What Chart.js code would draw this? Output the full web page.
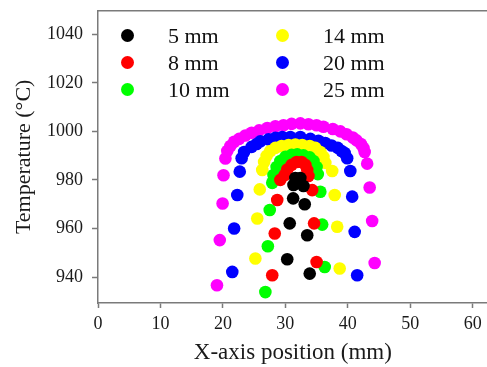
<!DOCTYPE html>
<html lang="en">
<head>
    <meta charset="UTF-8">
    <title>Temperature vs X-axis position</title>
    <style>
        body {
            margin: 0;
            padding: 0;
            background: #fff;
        }
        .wrap {
            position: relative;
            width: 487px;
            height: 367px;
            overflow: hidden;
        }
        #chart {
            position: absolute;
            left: 0;
            top: 0;
        }
        .legend-item {
            position: absolute;
            height: 27px;
            display: flex;
            align-items: center;
            font-family: "Liberation Serif", "DejaVu Serif", serif;
            font-size: 22px;
            line-height: 27px;
            color: #111;
            white-space: nowrap;
        }
        .legend-dot {
            width: 13px;
            height: 13px;
            border-radius: 50%;
            flex: none;
        }
    </style>
</head>
<body>
    <div class="wrap">
        <!-- a bit wider than the window so the plot runs off the right edge like the original -->
        <canvas id="chart" width="494" height="367"></canvas>
        <div id="legend"></div>
    </div>
    <script src="https://cdn.jsdelivr.net/npm/chart.js"></script>
    <script>
        const seriesLabels = ['5 mm', '8 mm', '10 mm', '14 mm', '20 mm', '25 mm'];
        const seriesColors = ['#000000', '#ff0000', '#00ff00', '#ffff00', '#0000ff', '#ff00ff'];
        const xTicks = [0, 10, 20, 30, 40, 50, 60];
        const yTicks = [940, 960, 980, 1000, 1020, 1040];

        // x position (mm) and temperature (°C), per series
        const x5 = [30.3, 30.7, 31.25, 31.3, 31.6, 32.4, 32.1, 32.9, 33.1, 33.5, 33.9];
        const t5 = [947.3, 962.1, 972.4, 977.9, 980.8, 980.8, 978.7, 977.5, 970.0, 957.2, 941.4];

        const x8 = [27.9, 28.3, 28.7, 29.2, 29.9, 30.3, 31.0, 31.8, 32.6, 33.2, 33.5, 33.7, 34.3, 34.6, 35.0];
        const t8 = [940.7, 957.9, 971.7, 980.0, 982.0, 984.3, 986.2, 987.4, 987.4, 986.2, 984.1, 981.6, 975.8, 962.1, 946.2];

        const x10 = [26.8, 27.2, 27.5, 27.9, 28.1, 28.6, 29.2, 30.0, 31.0, 31.9, 32.9, 33.9, 34.5, 35.0, 35.2, 35.6, 35.9, 36.3];
        const t10 = [933.8, 952.7, 967.6, 978.8, 982.0, 985.3, 987.8, 989.5, 990.3, 990.5, 990.1, 989.3, 987.8, 985.3, 982.4, 975.1, 961.6, 944.1];

        const x14 = [25.2, 25.5, 25.9, 26.3, 26.6, 27.0, 27.6, 28.4, 29.4, 30.5, 31.6, 32.7, 33.9, 34.8, 35.6, 36.1, 36.4, 37.5, 37.9, 38.3, 38.7];
        const t14 = [947.6, 964.1, 976.1, 984.1, 987.4, 989.9, 991.9, 993.2, 994.0, 994.4, 994.6, 994.4, 994.0, 993.2, 991.5, 989.5, 987.0, 983.7, 973.8, 960.7, 943.5];

        const x20 = [21.5, 21.8, 22.3, 22.7, 23.0, 23.4, 24.6, 25.4, 26.0, 27.3, 28.4, 29.5, 30.8, 32.4, 34.0, 35.3, 36.4, 37.4, 38.4, 39.0, 39.5, 39.9, 40.4, 40.7, 41.1, 41.5];
        const t20 = [942.1, 960.0, 973.8, 983.4, 988.9, 991.5, 993.6, 994.8, 995.9, 996.7, 997.3, 997.7, 997.7, 997.7, 996.9, 996.1, 995.2, 994.2, 993.2, 991.9, 991.1, 988.9, 983.7, 973.1, 958.6, 940.7];

        const x25 = [19.05, 19.5, 19.95, 20.1, 20.4, 20.7, 21.2, 21.8, 22.6, 23.6, 24.6, 25.8, 27.1, 28.4, 29.7, 31.0, 32.4, 33.7, 35.0, 36.1, 37.6, 38.8, 39.8, 40.8, 41.4, 42.1, 42.5, 42.7, 43.1, 43.5, 43.9, 44.3];
        const t25 = [936.6, 955.2, 970.3, 981.9, 988.8, 991.9, 994.0, 995.7, 996.9, 998.3, 999.4, 1000.4, 1001.4, 1002.1, 1002.5, 1003.1, 1003.3, 1002.9, 1002.5, 1001.9, 1001.0, 1000.0, 998.8, 997.5, 996.3, 994.8, 993.2, 991.5, 986.7, 976.9, 963.1, 945.8];

        const allX = [x5, x8, x10, x14, x20, x25];
        const allT = [t5, t8, t10, t14, t20, t25];

        const axisColor = '#7a7a7a';
        const textColor = '#1a1a1a';
        const serif = '"Liberation Serif", "DejaVu Serif", serif';

        const datasets = seriesLabels.map((label, i) => ({
            label: label,
            data: allX[i].map((x, j) => ({ x: x, y: allT[i][j] })),
            backgroundColor: seriesColors[i],
            borderWidth: 0,
            pointRadius: 6.3,
            pointHoverRadius: 6.3,
            showLine: false
        }));

        // top frame line
        const topLine = {
            id: 'topLine',
            afterDraw(chart) {
                const { ctx, chartArea } = chart;
                ctx.save();
                ctx.strokeStyle = axisColor;
                ctx.lineWidth = 1.5;
                ctx.beginPath();
                ctx.moveTo(chartArea.left, chartArea.top);
                ctx.lineTo(chart.width, chartArea.top);
                ctx.stroke();
                ctx.restore();
            }
        };

        new Chart(document.getElementById('chart'), {
            type: 'scatter',
            data: { datasets: datasets },
            plugins: [topLine],
            options: {
                responsive: false,
                animation: false,
                events: [],
                layout: { padding: { top: 10.7, right: 0, left: 0, bottom: 0 } },
                plugins: {
                    legend: { display: false },
                    tooltip: { enabled: false }
                },
                scales: {
                    x: {
                        type: 'linear',
                        min: 0,
                        max: 62.4,
                        afterBuildTicks: s => { s.ticks = xTicks.map(v => ({ value: v })); },
                        afterFit: s => { s.height = 64; s.paddingLeft = 0; s.paddingRight = 0; },
                        border: { color: axisColor, width: 1.5 },
                        grid: { display: true, drawOnChartArea: false, drawTicks: true, tickLength: 5, tickColor: axisColor, tickWidth: 1.5 },
                        ticks: { color: textColor, font: { family: serif, size: 18 }, padding: 5, maxRotation: 0, callback: v => String(v) },
                        title: { display: true, text: 'X-axis position (mm)', color: textColor, font: { family: serif, size: 23 }, padding: { top: 0, bottom: 0 } }
                    },
                    y: {
                        type: 'linear',
                        min: 929.3,
                        max: 1049.7,
                        afterBuildTicks: s => { s.ticks = yTicks.map(v => ({ value: v })); },
                        afterFit: s => { s.width = 98; s.paddingTop = 0; s.paddingBottom = 0; },
                        border: { color: axisColor, width: 1.5 },
                        grid: { display: true, drawOnChartArea: false, drawTicks: true, tickLength: 6, tickColor: axisColor, tickWidth: 1.5 },
                        ticks: { color: textColor, font: { family: serif, size: 18 }, padding: 9, callback: v => String(v) },
                        title: { display: true, text: 'Temperature (°C)', color: textColor, font: { family: serif, size: 22 }, padding: { top: 11, bottom: 0 } }
                    }
                }
            }
        });

        // legend in two columns inside the plot
        const legend = document.getElementById('legend');
        const colLeft = [121, 276];
        const rowTop = [21.5, 49, 75.8];
        seriesLabels.forEach((label, i) => {
            const col = Math.floor(i / 3);
            const row = i % 3;
            const item = document.createElement('div');
            item.className = 'legend-item';
            item.style.left = colLeft[col] + 'px';
            item.style.top = rowTop[row] + 'px';
            item.innerHTML = `<span class="legend-dot" style="background:${seriesColors[i]}"></span><span style="margin-left:34px">${label}</span>`;
            legend.appendChild(item);
        });
    </script>
</body>
</html>
